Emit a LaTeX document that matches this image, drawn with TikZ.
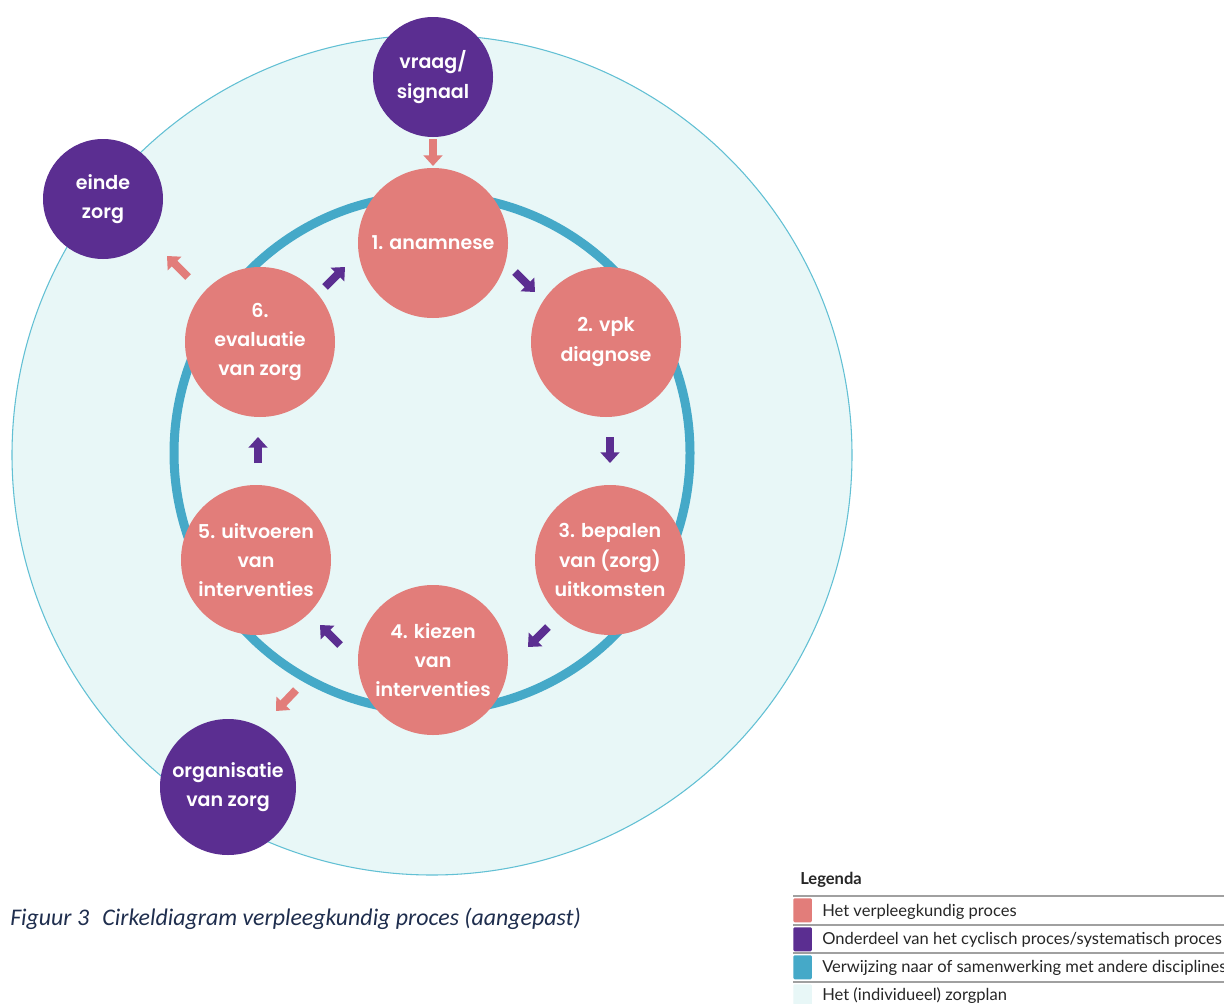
\documentclass[tikz,border=0pt]{standalone}
\usepackage{fontspec}
\setmainfont{Lato}
\newfontfamily\capfont{Carlito}
\newfontfamily\circfont{Poppins SemiBold}
\usetikzlibrary{arrows.meta}
\definecolor{pinkc}{HTML}{E27D7A}
\definecolor{purp}{HTML}{5B2E91}
\definecolor{ringb}{HTML}{45A9C8}
\definecolor{plan}{HTML}{E8F7F7}
\definecolor{outl}{HTML}{62C0D4}
\definecolor{capc}{HTML}{1F2E4E}
\definecolor{rulec}{HTML}{A0A0A0}
\begin{document}
\begin{tikzpicture}[x=0.75pt,y=-0.75pt,
  stepnode/.style={circle,fill=pinkc,minimum size=112.5pt,inner sep=0pt,text=white,
    font=\circfont\fontsize{14.3}{22}\selectfont,align=center},
  endnode/.style={circle,fill=purp,minimum size=90pt,inner sep=0pt,text=white,
    font=\circfont\fontsize{14.3}{22}\selectfont,align=center},
  barrow/.style={line width=6pt,-{Triangle[width=14pt,length=8pt]}},
  legtext/.style={anchor=base west,inner sep=0pt,font=\fontsize{12.4}{14}\selectfont,text=black!85},
  legbox/.style={inner sep=0pt,minimum width=14pt,minimum height=18pt,rounded corners=1pt},
]
\useasboundingbox (0,0) rectangle (1224,1003);
\fill[white] (0,0) rectangle (1224,1003);
% individual care plan
\draw[outl,fill=plan,line width=0.8pt] (432,455) circle[radius=420];
% collaboration ring
\draw[ringb,line width=6.75pt] (432,453) circle[radius=258];
% steps
\node[stepnode] (s1) at (433,243) {1. anamnese};
\node[stepnode] (s2) at (606,342) {2. vpk\\diagnose};
\node[stepnode] (s3) at (610,560) {3. bepalen\\van (zorg)\\uitkomsten};
\node[stepnode] (s4) at (433,660) {4. kiezen\\van\\interventies};
\node[stepnode] (s5) at (256,560) {5. uitvoeren\\van\\interventies};
\node[stepnode] (s6) at (260,342) {6.\\evaluatie\\van zorg};
% purple nodes
\node[endnode] (vr) at (433,77) {vraag/\\signaal};
\node[endnode] (ez) at (103,199) {einde\\zorg};
\node[endnode,minimum size=102pt] (oz) at (228,787) {organisatie\\van zorg};
% arrow coordinates
\coordinate (a0s) at (433,139); \coordinate (a0e) at (433,166);
\coordinate (a1s) at (515,272); \coordinate (a1e) at (535,292);
\coordinate (a2s) at (610,437); \coordinate (a2e) at (610,463);
\coordinate (a3s) at (548,627); \coordinate (a3e) at (528,647);
\coordinate (a4s) at (340,645); \coordinate (a4e) at (320,625);
\coordinate (a5s) at (296,690); \coordinate (a5e) at (276,711);
\coordinate (a6s) at (258,463); \coordinate (a6e) at (258,437);
\coordinate (a7s) at (325,287); \coordinate (a7e) at (345,267);
\coordinate (a8s) at (188,277); \coordinate (a8e) at (167,256);
\draw[barrow,pinkc] (a0s) -- (a0e);
\draw[barrow,purp] (a1s) -- (a1e);
\draw[barrow,purp] (a2s) -- (a2e);
\draw[barrow,purp] (a3s) -- (a3e);
\draw[barrow,purp] (a4s) -- (a4e);
\draw[barrow,pinkc] (a5s) -- (a5e);
\draw[barrow,purp] (a6s) -- (a6e);
\draw[barrow,purp] (a7s) -- (a7e);
\draw[barrow,pinkc] (a8s) -- (a8e);
% caption
\node[anchor=base west,inner sep=0pt,text=capc,font=\capfont\itshape\fontsize{17.9}{20}\selectfont] (cap) at (10,925)
  {Figuur 3\hspace{10pt}Cirkeldiagram verpleegkundig proces (aangepast)};
% legend
\node[anchor=base west,inner sep=0pt,font=\bfseries\fontsize{12.4}{14}\selectfont,text=black!85] (lg) at (800,884) {Legenda};
\foreach \yy in {896,925,953,982} \draw[rulec,line width=1pt] (793,\yy) -- (1224,\yy);
\node[legbox,fill=pinkc,anchor=north west] (b1) at (793,898) {};
\node[legbox,fill=purp,anchor=north west] (b2) at (793,927) {};
\node[legbox,fill=ringb,anchor=north west] (b3) at (793,955) {};
\node[legbox,fill=plan,anchor=north west,minimum height=20pt] (b4) at (793,984) {};
\node[legtext] (t1) at (822,916) {Het verpleegkundig proces};
\node[legtext] (t2) at (822,944) {Onderdeel van het cyclisch proces/systematisch proces};
\node[legtext] (t3) at (822,972) {Verwijzing naar of samenwerking met andere disciplines};
\node[legtext] (t4) at (822,1000) {Het (individueel) zorgplan};
\end{tikzpicture}
\end{document}
